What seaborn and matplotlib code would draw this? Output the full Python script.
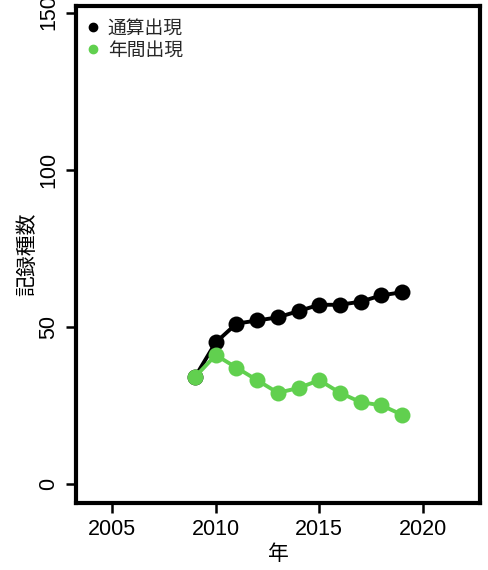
import seaborn as sns
import pandas as pd
from matplotlib import pyplot as plt

years = [2009, 2010, 2011, 2012, 2013, 2014, 2015, 2016, 2017, 2018, 2019]
cumulative = [34, 45, 51, 52, 53, 55, 57, 57, 58, 60, 61]
annual = [34, 41, 37, 33, 29, 30.5, 33, 29, 26, 25, 22]
labels = ['通算出現', '年間出現']
colors = ['black', '#61D04F']

sns.set_style('ticks')
plt.rcParams['font.family'] = ['Liberation Sans', 'Noto Sans CJK JP', 'DejaVu Sans']

df = pd.DataFrame({'year': years * 2,
                   'count': cumulative + annual,
                   'kind': [labels[0]] * len(years) + [labels[1]] * len(years)})

fig = plt.figure(figsize=(4.88, 5.70), dpi=100)
ax = fig.add_axes([0.156, 0.118, 0.828, 0.871])

sns.lineplot(data=df, x='year', y='count', hue='kind', palette=colors,
             marker='o', markersize=11.5, markeredgewidth=0, linewidth=2.8,
             ax=ax, legend=False)

# legend as plain dots
for lab, col in zip(labels, colors):
    ax.plot([], [], 'o', color=col, markersize=6, label=lab)
ax.legend(loc='upper left', frameon=False, handletextpad=0.3,
          borderaxespad=0.2, labelspacing=0.05, handlelength=1.0,
          bbox_to_anchor=(-0.01, 1.0),
          prop={'family': ['Noto Sans CJK JP'], 'size': 13.5})

ax.set_xlim(2003.26, 2022.77)
ax.set_ylim(-6, 152)
ax.set_xticks([2005, 2010, 2015, 2020])
ax.set_yticks([0, 50, 100, 150])
ax.tick_params(axis='both', length=7, width=1.8, labelsize=15.5, direction='out',
               pad=5, colors='black')
plt.setp(ax.get_yticklabels(), rotation=90, va='center')
for s in ax.spines.values():
    s.set_linewidth(3)
    s.set_color('black')
    s.set_visible(True)

ax.set_xlabel('年', family=['Noto Sans CJK JP'], fontsize=15, labelpad=2, color='black')
ax.set_ylabel('記録種数', family=['Noto Sans CJK JP'], fontsize=15, labelpad=0, color='black')

fig.savefig('out.png', dpi=100)
